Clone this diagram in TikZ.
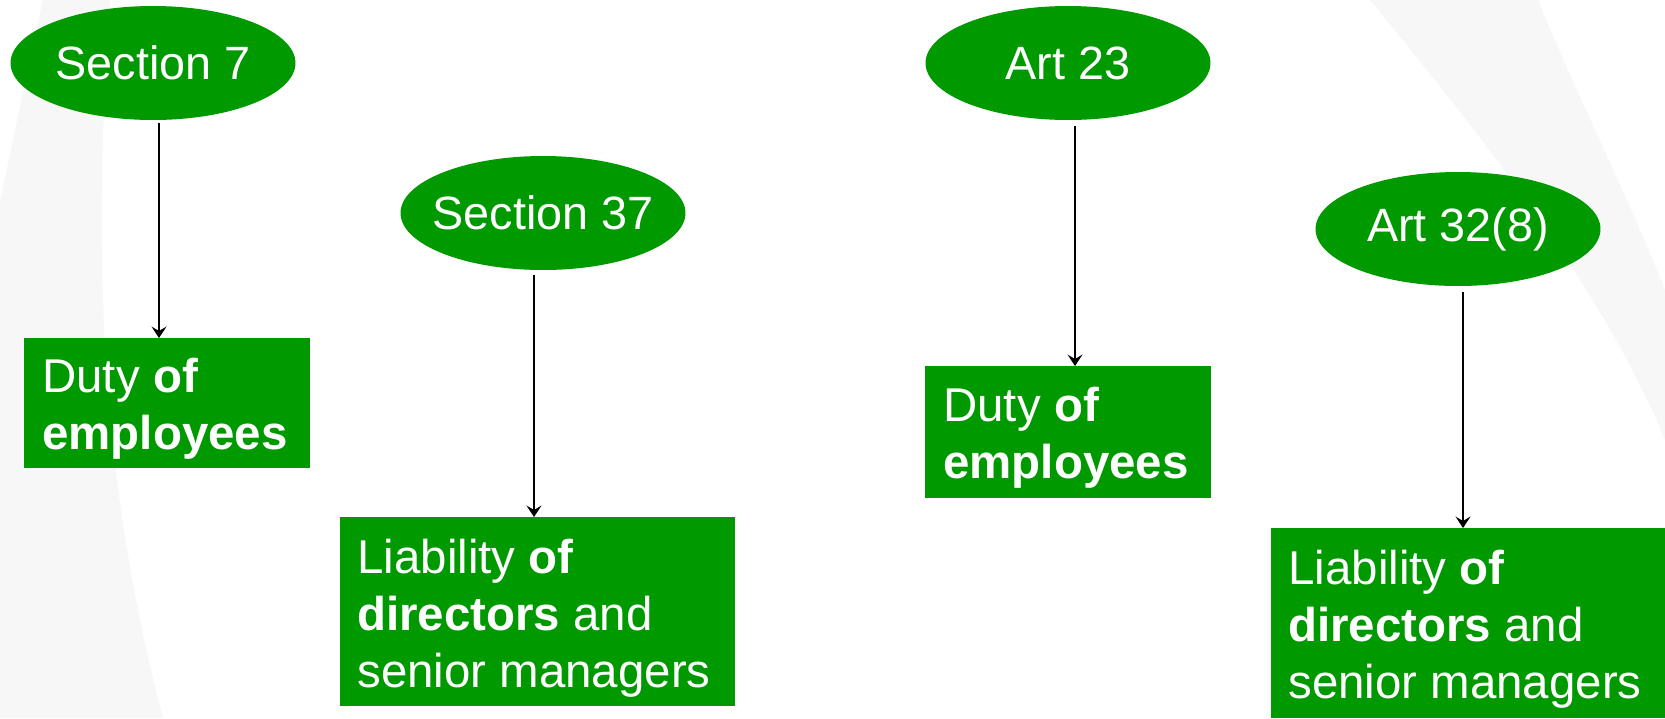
\documentclass[tikz,border=0pt]{standalone}
\usepackage{fontspec}
\setmainfont{Liberation Sans}
\usetikzlibrary{arrows.meta,shapes.geometric}
\definecolor{actgreen}{RGB}{0,153,0}
\definecolor{slidegrey}{RGB}{247,247,247}

\begin{document}
\begin{tikzpicture}[x=0.02cm,y=-0.02cm,
  >={Stealth[length=6.5pt,width=8.5pt,inset=2.5pt]},
  sect/.style={ellipse, fill=actgreen, minimum width=5.7cm,
               minimum height=2.28cm, inner sep=0pt},
  duty/.style={rectangle, fill=actgreen, anchor=north west, inner sep=0pt},
  lbl/.style={text=white, font=\fontsize{26.6}{32}\selectfont},
  blk/.style={lbl, font=\fontsize{27}{32.3}\selectfont, align=left,
              anchor=north west, inner sep=0pt}]

  \fill[white] (0,0) rectangle (1665,718);
  \useasboundingbox (0,0) rectangle (1665,718);

  % faint bands behind everything
  \fill[slidegrey] (43,0) -- (110,0) .. controls (92,250) and (100,480) .. (163,718)
    -- (0,718) -- (0,202) .. controls (15,130) and (30,60) .. cycle;
  \fill[slidegrey] (1370,0) .. controls (1460,110) and (1600,280) .. (1665,440)
    -- (1665,290) .. controls (1625,190) and (1570,80) .. (1538,0) -- cycle;

  % sections / articles
  \node[sect] (s7) at (153,63) {};
  \node[lbl] at (s7.center) {Section 7};

  \node[sect] (s37) at (543,213) {};
  \node[lbl] at (s37.center) {Section 37};

  \node[sect] (a23) at (1068,63) {};
  \node[lbl] at (a23.center) {Art 23};

  \node[sect] (a32) at (1458,229) {};
  \node[lbl] at (a32.center) {Art 32(8)};

  % duties
  \node[duty,
        minimum width = 5.72cm,
        minimum height = 2.6cm
        ] (d7) at (24,338) {};
  \node[blk] at ([shift={(18,20)}]d7.north west) {Duty \textbf{of}\\\textbf{employees}};

  \node[duty,
        minimum width = 7.9cm,
        minimum height = 3.78cm
        ] (d37) at (340,517) {};
  \node[blk] at ([shift={(17,22)}]d37.north west)
    {Liability \textbf{of}\\\textbf{directors} and\\senior managers};

  \node[duty,
        minimum width = 5.72cm,
        minimum height = 2.64cm
        ] (d23) at (925,366) {};
  \node[blk] at ([shift={(18,21)}]d23.north west) {Duty \textbf{of}\\\textbf{employees}};

  \node[duty,
        minimum width = 7.88cm,
        minimum height = 3.8cm
        ] (d32) at (1271,528) {};
  \node[blk] at ([shift={(17,22)}]d32.north west)
    {Liability \textbf{of}\\\textbf{directors} and\\senior managers};

  \coordinate (t7) at ([shift={(6,3)}]s7.south);
  \coordinate (t37) at ([shift={(-9,5)}]s37.south);
  \coordinate (t23) at ([shift={(7,6)}]a23.south);
  \coordinate (t32) at ([shift={(5,6)}]a32.south);

  \path[->, line width=1.1pt]
  (t7) edge (t7 |- d7.north)
  (t37) edge (t37 |- d37.north)
  (t23) edge (t23 |- d23.north)
  (t32) edge (t32 |- d32.north);

\end{tikzpicture}
\end{document}
